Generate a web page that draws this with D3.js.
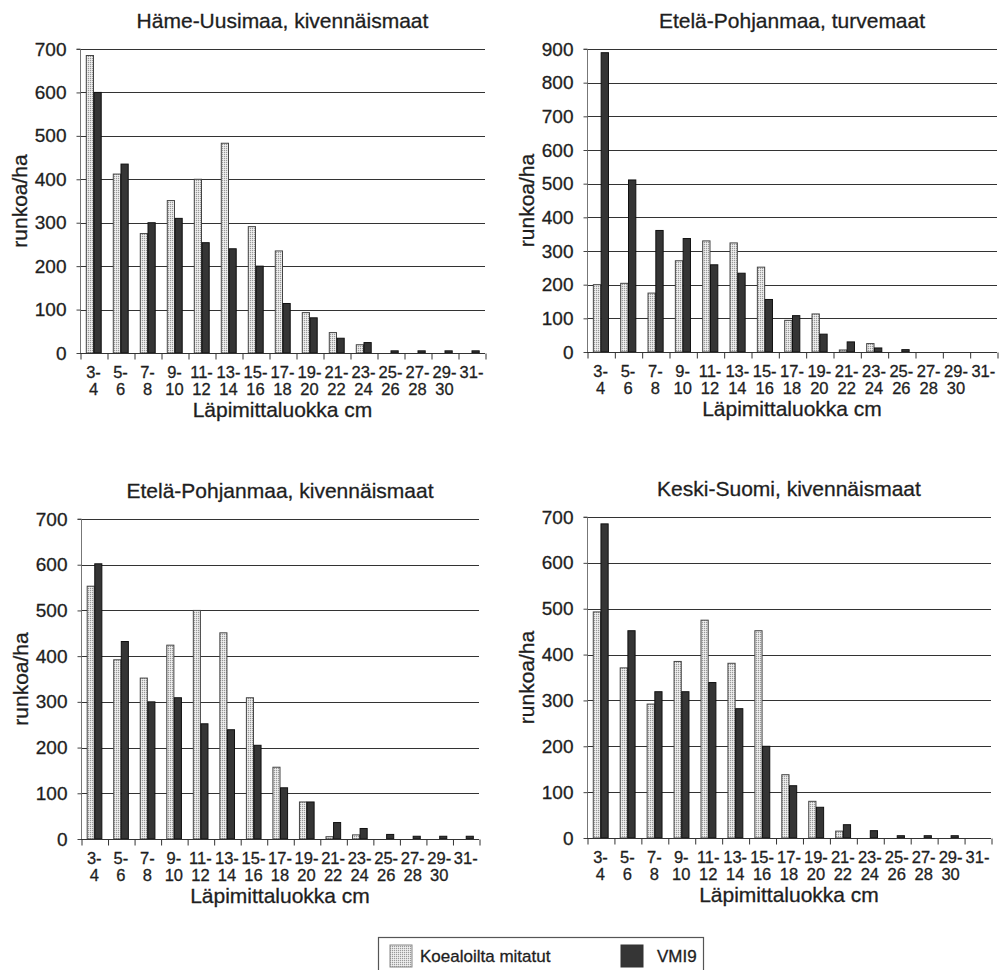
<!DOCTYPE html>
<html><head><meta charset="utf-8">
<script src="https://cdn.jsdelivr.net/npm/d3@7/dist/d3.min.js"></script>
<style>
body{margin:0;background:#fff;}
svg{display:block;font-family:"Liberation Sans",Arial,Helvetica,sans-serif;}
svg text{font-family:"Liberation Sans",Arial,Helvetica,sans-serif;stroke:#1e1e1e;stroke-width:0.3px;}
</style></head>
<body><svg id="c" width="999" height="970"></svg>
<script>
const categories = ["3-4","5-6","7-8","9-10","11-12","13-14","15-16","17-18","19-20","21-22","23-24","25-26","27-28","29-30","31-"];
const tickTop = ["3-","5-","7-","9-","11-","13-","15-","17-","19-","21-","23-","25-","27-","29-","31-"];
const tickBottom = ["4","6","8","10","12","14","16","18","20","22","24","26","28","30",""];
const seriesNames = ["Koealoilta mitatut","VMI9"];
const titles = ["Häme-Uusimaa, kivennäismaat","Etelä-Pohjanmaa, turvemaat","Etelä-Pohjanmaa, kivennäismaat","Keski-Suomi, kivennäismaat"];
const yMax = [700, 900, 700, 700];
const haemeKoe  = [685,412,275,351,400,483,291,235,93,47,19,0,0,0,0];
const haemeVmi  = [600,435,300,310,254,240,200,114,81,34,24,5,5,5,5];
const epTurveKoe = [200,204,175,271,330,324,252,94,113,6,25,0,0,0,0];
const epTurveVmi = [889,511,361,337,259,234,156,108,53,30,12,7,0,0,0];
const epKivKoe  = [553,392,352,424,500,451,309,157,81,5,9,0,0,0,0];
const epKivVmi  = [602,432,300,309,252,239,205,112,81,36,23,10,6,6,6];
const ksKoe     = [493,371,292,385,475,381,452,138,80,15,0,0,0,0,0];
const ksVmi     = [685,452,319,319,339,282,200,114,67,29,16,5,5,5,0];
const xTitle = "Läpimittaluokka cm";
const yTitle = "runkoa/ha";

const panelData = [[haemeKoe,haemeVmi],[epTurveKoe,epTurveVmi],[epKivKoe,epKivVmi],[ksKoe,ksVmi]];
const boxes = [
  {l:80,t:49,r:485,b:353},
  {l:587,t:49,r:997,b:352},
  {l:81,t:519,r:479,b:839},
  {l:587,t:517,r:991,b:838}
];
const svg = d3.select("#c");
const defs = svg.append("defs");
const pat = defs.append("pattern").attr("id","stip").attr("width",2).attr("height",2).attr("patternUnits","userSpaceOnUse");
pat.append("rect").attr("width",2).attr("height",2).attr("fill","#e0e0e0");
pat.append("rect").attr("width",1).attr("height",1).attr("fill","#999");
pat.append("rect").attr("x",1).attr("y",1).attr("width",1).attr("height",1).attr("fill","#f0f0f0");
const fills = ["url(#stip)","#353535"];
const strokes = ["#444","#111"];
const txt = "#1e1e1e";
const FF = '"Liberation Sans",Arial,Helvetica,sans-serif';

panelData.forEach((ser,pi)=>{
  const bx = boxes[pi];
  const g = svg.append("g");
  const x0 = d3.scaleBand().domain(categories).range([bx.l,bx.r]).padding(0);
  const x1 = d3.scaleBand().domain(seriesNames).range([0,x0.bandwidth()]).paddingInner(0).paddingOuter(0.75);
  const y = d3.scaleLinear().domain([0,yMax[pi]]).range([bx.b,bx.t]);
  const ticks = d3.range(0,yMax[pi]+1,100);
  // gridlines
  g.selectAll("line.grid").data(ticks).join("line")
    .attr("x1",bx.l).attr("x2",bx.r).attr("y1",d=>Math.round(y(d))+0.5).attr("y2",d=>Math.round(y(d))+0.5)
    .attr("stroke","#333").attr("stroke-width",1.1);
  // y axis
  const ya = g.append("g").attr("transform",`translate(${bx.l+0.5},0)`)
    .call(d3.axisLeft(y).tickValues(ticks).tickSize(4).tickPadding(10).tickFormat(d3.format("d")));
  ya.attr("font-family",FF).attr("font-size",19);
  ya.select(".domain").attr("stroke","#777").attr("d",`M-4,${y(yMax[pi])}H0V${bx.b}`);
  ya.selectAll(".tick line").attr("stroke","#444");
  ya.selectAll(".tick text").attr("fill",txt);
  // bars
  const bg = g.append("g");
  ser.forEach((vals,si)=>{
    bg.selectAll(null).data(vals).join("rect")
      .attr("x",(d,i)=>x0(categories[i])+x1(seriesNames[si])+0.5)
      .attr("width",x1.bandwidth()-0.5)
      .attr("y",d=>y(d))
      .attr("height",d=>bx.b-y(d))
      .attr("fill",fills[si]).attr("stroke",d=>d>0?strokes[si]:"none").attr("stroke-width",1);
  });
  // x axis ticks at boundaries
  const xi = d3.scaleLinear().domain([0,categories.length]).range([bx.l,bx.r]);
  const xa = g.append("g").attr("transform",`translate(0,${bx.b+0.5})`)
    .call(d3.axisBottom(xi).tickValues(d3.range(0,categories.length+1)).tickSize(6).tickFormat(""));
  xa.select(".domain").attr("stroke","#333").attr("d",`M${bx.l},0H${bx.r}`);
  xa.selectAll(".tick line").attr("stroke","#333").attr("transform","translate(0.5,0)");
  // x labels
  const xl = g.append("g").attr("transform",`translate(0,${bx.b})`)
    .call(d3.axisBottom(x0).tickSize(0).tickPadding(0).tickFormat(""));
  xl.attr("font-family",FF).attr("font-size",16.5);
  xl.select(".domain").remove();
  xl.selectAll(".tick").each(function(d,i){
    const t = d3.select(this).append("text").attr("fill",txt).attr("text-anchor","middle");
    t.append("tspan").attr("x",0).attr("y",25).text(tickTop[i]);
    t.append("tspan").attr("x",0).attr("y",42).text(tickBottom[i]);
  });
  // titles
  g.append("text").attr("x",(bx.l+bx.r)/2).attr("y",bx.t-21).attr("text-anchor","middle")
    .attr("font-size",21).attr("fill",txt).text(titles[pi]);
  g.append("text").attr("x",(bx.l+bx.r)/2).attr("y",bx.b+64).attr("text-anchor","middle")
    .attr("font-size",21).attr("fill",txt).text(xTitle);
  g.append("text").attr("transform",`translate(${bx.l-53},${(bx.t+bx.b)/2}) rotate(-90)`)
    .attr("text-anchor","middle").attr("font-size",21).attr("fill",txt).text(yTitle);
});

// legend
const lg = svg.append("g");
lg.append("rect").attr("x",378.5).attr("y",937.5).attr("width",325).attr("height",45)
  .attr("fill","none").attr("stroke","#555").attr("stroke-width",1.2);
const legX = [390, 621];
const legGap = [8, 14];
seriesNames.forEach((s,i)=>{
  lg.append("rect").attr("x",legX[i]).attr("y",945).attr("width",22).attr("height",22)
    .attr("fill",fills[i]).attr("stroke",i===0?"#888":"#333");
  lg.append("text").attr("x",legX[i]+22+legGap[i]).attr("y",962).attr("font-size",17).attr("fill",txt).text(s);
});
</script></body></html>
